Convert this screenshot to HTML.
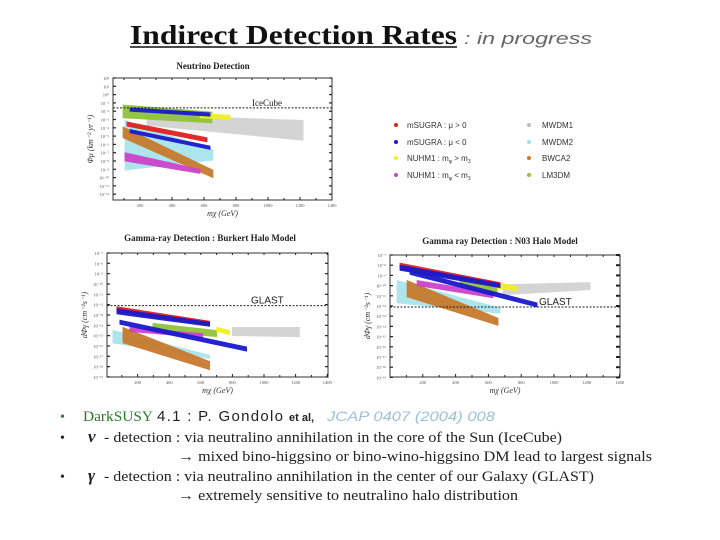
<!DOCTYPE html>
<html><head><meta charset="utf-8"><style>
html,body{margin:0;padding:0;background:#fff;width:720px;height:540px;overflow:hidden}
svg{display:block}
.t{font-family:"Liberation Serif",serif}
.s{font-family:"Liberation Sans",sans-serif}
</style></head><body>
<svg id="pg" width="720" height="540" viewBox="0 0 720 540">
<text class="t" x="130" y="44" font-size="27" font-weight="bold" fill="#111" textLength="327" lengthAdjust="spacingAndGlyphs">Indirect Detection Rates</text>
<line x1="130" y1="47" x2="457" y2="47" stroke="#111" stroke-width="1.5"/>
<text class="s" x="464" y="44" font-size="17" font-style="italic" fill="#666" textLength="128" lengthAdjust="spacingAndGlyphs">: in progress</text>

<g id="c1"></g>
<g id="c2"></g>
<g id="c3"></g>

<g class="s" font-size="8" fill="#333">
<circle cx="396" cy="125" r="2" fill="#e02020"/><text x="407" y="128">mSUGRA : μ &gt; 0</text>
<circle cx="396" cy="142" r="2" fill="#1a1acc"/><text x="407" y="145">mSUGRA : μ &lt; 0</text>
<circle cx="396" cy="158" r="2" fill="#f0f020"/><text x="407" y="161">NUHM1 : m<tspan font-size="5" dy="2">φ</tspan><tspan dy="-2"> &gt; m</tspan><tspan font-size="5" dy="2">3</tspan></text>
<circle cx="396" cy="175" r="2" fill="#cc44cc"/><text x="407" y="178">NUHM1 : m<tspan font-size="5" dy="2">φ</tspan><tspan dy="-2"> &lt; m</tspan><tspan font-size="5" dy="2">3</tspan></text>
<circle cx="529" cy="125" r="2" fill="#bbb"/><text x="542" y="128">MWDM1</text>
<circle cx="529" cy="142" r="2" fill="#9fe0e8"/><text x="542" y="145">MWDM2</text>
<circle cx="529" cy="158" r="2" fill="#c87a2e"/><text x="542" y="161">BWCA2</text>
<circle cx="529" cy="175" r="2" fill="#8fc43a"/><text x="542" y="178">LM3DM</text>
</g>

<g>
<text class="t" x="60" y="421" font-size="14" fill="#2a7a2a">•</text>
<text class="t" x="83" y="421" font-size="15" fill="#2a7a2a" textLength="70" lengthAdjust="spacingAndGlyphs">DarkSUSY</text>
<text class="s" x="157" y="421" font-size="15" fill="#222" textLength="126" lengthAdjust="spacing">4.1 : P. Gondolo</text>
<text class="s" x="289" y="421" font-size="11" font-weight="bold" fill="#222">et al,</text>
<text class="s" x="327" y="421" font-size="14" font-style="italic" fill="#9bc0d8" textLength="168" lengthAdjust="spacingAndGlyphs">JCAP 0407 (2004) 008</text>
<text class="t" x="60" y="442" font-size="14" fill="#222">•</text>
<text class="t" x="88" y="442" font-size="17" font-style="italic" font-weight="bold" fill="#222">ν</text>
<text class="t" x="104" y="442" font-size="14.5" fill="#222" textLength="458" lengthAdjust="spacingAndGlyphs">- detection : via neutralino annihilation in the core of the Sun (IceCube)</text>
<text class="t" x="178" y="461" font-size="14.5" fill="#222" textLength="474" lengthAdjust="spacingAndGlyphs">→ mixed bino-higgsino or bino-wino-higgsino DM lead to largest signals</text>
<text class="t" x="60" y="481" font-size="14" fill="#222">•</text>
<text class="t" x="88" y="481" font-size="17" font-style="italic" font-weight="bold" fill="#222">γ</text>
<text class="t" x="104" y="481" font-size="14.5" fill="#222" textLength="490" lengthAdjust="spacingAndGlyphs">- detection : via neutralino annihilation in the center of our Galaxy (GLAST)</text>
<text class="t" x="178" y="500" font-size="14.5" fill="#222" textLength="340" lengthAdjust="spacingAndGlyphs">→ extremely sensitive to neutralino halo distribution</text>
</g>
</svg>
<script>
// Band data per chart: series, mass range (GeV), upper/lower log10 rate at start and end
const bandNames = ['lightblue','orange','gray','green','yellow','magenta','red','blueUpper','blueLower'];
const bandColors = ['#a8e4ec','#c87a2e','#d2d2d2','#8fc43a','#f0f020','#cc44cc','#e02020','#1a1acc','#1a1acc'];
// Neutrino chart
const nuMassStart = [106, 94, 244, 94, 575, 106, 119, 138, 138];
const nuMassEnd   = [656, 656, 1219, 650, 763, 575, 619, 638, 638];
const nuHiStart   = [-3.1, -3.9, -2.5, -1.25, -2.2, -7.0, -3.3, -1.6, -4.2];
const nuHiEnd     = [-6.7, -9.1, -3.1, -2.1, -2.5, -9.0, -5.2, -2.2, -6.2];
const nuLoStart   = [-9.1, -5.2, -3.7, -2.8, -2.8, -8.0, -3.8, -2.0, -4.6];
const nuLoEnd     = [-7.9, -10.0, -5.5, -3.4, -3.0, -9.5, -5.7, -2.6, -6.6];
// Gamma Burkert chart
const gbMassStart = [44, 107, 800, 297, 700, 151, 69, 69, 88];
const gbMassEnd   = [656, 656, 1224, 700, 782, 612, 656, 656, 890];
const gbHiStart   = [-14.5, -14.2, -14.2, -13.8, -14.2, -14.2, -12.2, -12.4, -13.5];
const gbHiEnd     = [-16.9, -17.5, -14.2, -14.5, -14.5, -14.8, -13.6, -13.7, -16.1];
const gbLoStart   = [-15.7, -15.7, -15.0, -14.5, -14.6, -14.6, -12.7, -12.9, -13.9];
const gbLoEnd     = [-17.2, -18.3, -15.1, -15.1, -14.9, -15.2, -14.0, -14.1, -16.5];
// Gamma N03 chart
const gnMassStart = [43, 104, 690, 427, 653, 165, 61, 61, 122];
const gnMassEnd   = [671, 659, 1220, 653, 775, 628, 671, 671, 897];
const gnHiStart   = [-9.5, -9.5, -9.9, -9.5, -9.7, -9.5, -7.8, -8.0, -8.5];
const gnHiEnd     = [-12.2, -13.2, -9.7, -9.9, -10.1, -10.7, -9.7, -9.8, -11.7];
const gnLoStart   = [-11.7, -11.1, -10.9, -10.2, -10.3, -10.0, -8.4, -8.5, -8.9];
const gnLoEnd     = [-12.7, -13.9, -10.4, -10.7, -10.5, -11.2, -10.1, -10.2, -12.1];
const massTicks = [200, 400, 600, 800, 1000, 1200, 1400];
const NS='http://www.w3.org/2000/svg';
function mk(parent, tag, attrs){const e=document.createElementNS(NS,tag);for(const k in attrs)e.setAttribute(k,attrs[k]);parent.appendChild(e);return e;}

function chart(cfg){
  const g=document.getElementById(cfg.id);
  const sx=m=>cfg.x0+m*cfg.kx;
  const sy=e=>cfg.top+(cfg.eTop-e)*cfg.ky;
  const t=mk(g,'text',{x:cfg.titleX,y:cfg.titleY,'text-anchor':'middle','font-size':9,'font-weight':'bold','font-family':'Liberation Serif,serif',fill:'#222'});
  t.textContent=cfg.title;
  
  
  const fr=mk(g,'rect',{x:cfg.left,y:cfg.top,width:cfg.right-cfg.left,height:cfg.bottom-cfg.top,fill:'none',stroke:'#333','stroke-width':1});
  
  
  for(let e=cfg.eTop;e>=cfg.eBot;e--){
    const y=sy(e);
    mk(g,'line',{x1:cfg.left,y1:y,x2:cfg.left+3,y2:y,stroke:'#222','stroke-width':1.2});
    mk(g,'line',{x1:cfg.right-cfg.rt,y1:y,x2:cfg.right,y2:y,stroke:'#222','stroke-width':cfg.rt>3?2:1.2});
    const lb=mk(g,'text',{x:cfg.left-4,y:y+2,'text-anchor':'end','font-size':4.5,'font-family':'Liberation Serif,serif',fill:'#555'});
    lb.textContent='10'+(e<0?'⁻':'')+String(Math.abs(e)).split('').map(c=>'⁰¹²³⁴⁵⁶⁷⁸⁹'[+c]).join('');
    
    
  }
  for(let m=100;m<=1400;m+=100){
    const x=sx(m);
    mk(g,'line',{x1:x,y1:cfg.bottom,x2:x,y2:cfg.bottom-(m%200?2:3),stroke:'#222'});
    mk(g,'line',{x1:x,y1:cfg.top,x2:x,y2:cfg.top+2,stroke:'#222'});
  }
  massTicks.forEach(m=>{
    const lb=mk(g,'text',{x:sx(m),y:cfg.bottom+7,'text-anchor':'middle','font-size':4.5,'font-family':'Liberation Serif,serif',fill:'#555'});
    lb.textContent=m;
    
    
  });
  const xl=mk(g,'text',{x:(cfg.left+cfg.right)/2,y:cfg.bottom+16,'text-anchor':'middle','font-size':8,'font-style':'italic','font-family':'Liberation Serif,serif',fill:'#333'});
  xl.textContent='mχ (GeV)';
  
  
  const yl=mk(g,'text',{x:0,y:0,transform:`translate(${cfg.left-20},${(cfg.top+cfg.bottom)/2}) rotate(-90)`,'text-anchor':'middle','font-size':8,'font-style':'italic','font-family':'Liberation Serif,serif',fill:'#333'});
  yl.textContent=cfg.ylab;
  
  
  const d=cfg.data;
  bandNames.forEach((nm,i)=>{
    const x1=sx(d.ms[i]),x2=sx(d.me[i]);
    const p=mk(g,'polygon',{points:`${x1},${sy(d.hs[i])} ${x2},${sy(d.he[i])} ${x2},${sy(d.le[i])} ${x1},${sy(d.ls[i])}`,fill:bandColors[i],stroke:bandColors[i],'stroke-width':0.8,opacity:0.95});
    
    
  });
  const ty=sy(cfg.thr);
  const tl=mk(g,'line',{x1:cfg.left,y1:ty,x2:cfg.right,y2:ty,stroke:'#222','stroke-width':1,'stroke-dasharray':'2,1.5'});
  
  
  const tt=mk(g,'text',{x:cfg.thrX,y:ty-2,'font-size':cfg.thrFs,'font-family':cfg.thrFont,fill:'#222'});
  tt.textContent=cfg.thrLabel;
  
  
}
chart({id:'c1',title:'Neutrino Detection',titleX:213,titleY:69,left:113,right:332,top:78,bottom:200,x0:108,kx:0.16,eTop:2,eBot:-12,ky:8.3,rt:3,
  ylab:'Φμ (km⁻² yr⁻¹)',thr:-1.6,thrLabel:'IceCube',thrX:252,thrFs:9,thrFont:'Liberation Serif,serif',
  data:{ms:nuMassStart,me:nuMassEnd,hs:nuHiStart,he:nuHiEnd,ls:nuLoStart,le:nuLoEnd}});
chart({id:'c2',title:'Gamma-ray Detection : Burkert Halo Model',titleX:210,titleY:241,left:107,right:328,top:253,bottom:377,x0:106,kx:0.158,eTop:-7,eBot:-19,ky:10.33,rt:3,
  ylab:'dΦγ (cm⁻²s⁻¹)',thr:-12.1,thrLabel:'GLAST',thrX:251,thrFs:10,thrFont:'Liberation Sans,sans-serif',
  data:{ms:gbMassStart,me:gbMassEnd,hs:gbHiStart,he:gbHiEnd,ls:gbLoStart,le:gbLoEnd}});
chart({id:'c3',title:'Gamma ray Detection : N03 Halo Model',titleX:500,titleY:244,left:390,right:620,top:255,bottom:377,x0:390,kx:0.164,eTop:-7,eBot:-19,ky:10.2,rt:4,
  ylab:'dΦγ (cm⁻²s⁻¹)',thr:-12.1,thrLabel:'GLAST',thrX:539,thrFs:10,thrFont:'Liberation Sans,sans-serif',
  data:{ms:gnMassStart,me:gnMassEnd,hs:gnHiStart,he:gnHiEnd,ls:gnLoStart,le:gnLoEnd}});
</script>
</body></html>
